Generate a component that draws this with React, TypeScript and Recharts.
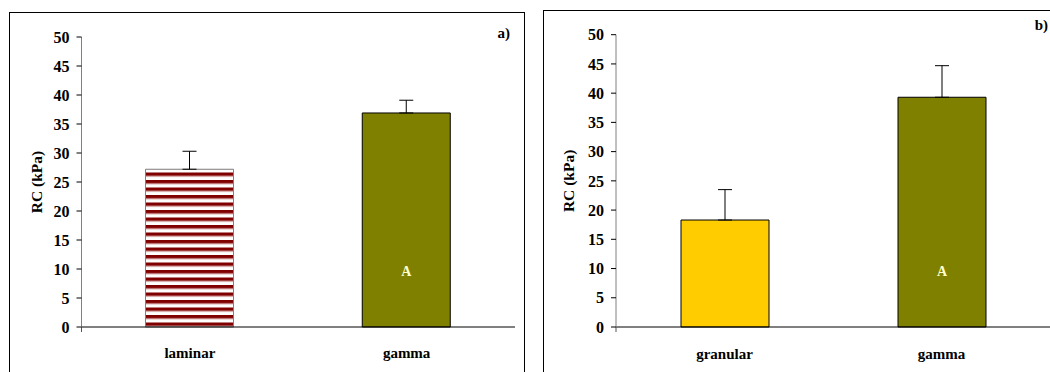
import { BarChart, Bar, XAxis, YAxis, Cell, ErrorBar, LabelList } from 'recharts'

const catsA = ['laminar', 'gamma']
const valsA = [27.2, 36.9]
const errsA = [3.1, 2.2]
const tagsA = ['', 'A']

const catsB = ['granular', 'gamma']
const valsB = [18.3, 39.3]
const errsB = [5.2, 5.4]
const tagsB = ['', 'A']

const yTicks = [0, 5, 10, 15, 20, 25, 30, 35, 40, 45, 50]
const edgeTicks = [0, 1, 2]

const fillsA = ['url(#stripes)', '#808000']
const strokesA = ['#808080', '#000']
const fillsB = ['#FFCC00', '#808000']
const strokesB = ['#000', '#000']

const font = "'Liberation Serif', 'Times New Roman', serif"
const tickFont = { fontFamily: font, fontSize: 15, fontWeight: 'bold', fill: '#000' }
const yTickFont = { ...tickFont, fontSize: 16 }

function build(cats: string[], vals: number[], errs: number[], tags: string[]) {
  return cats.map((c, i) => ({ name: c, rc: vals[i], err: [0, errs[i]], tag: tags[i] }))
}

const dataA = build(catsA, valsA, errsA, tagsA)
const dataB = build(catsB, valsB, errsB, tagsB)

// blank label, so only the boundary tick marks are drawn
const NoLabel = () => <g />

type PanelProps = {
  data: any[]
  fills: string[]
  strokes: string[]
  width: number
  top: number
  yWidth: number
  labelDx: number
  catMargin: number
  letter: string
  letterX: number
  letterY: number
  right: number
}

function Panel(p: PanelProps) {
  return (
    <BarChart width={p.width} height={372} data={p.data} margin={{ top: p.top, right: p.right, bottom: 0, left: 0 }}>
      <defs>
        <pattern id="stripes" patternUnits="userSpaceOnUse" width={8} height={7.5}>
          <rect x={0} y={0} width={8} height={7.5} fill="#fff" />
          <rect x={0} y={0} width={8} height={3.5} fill="#800000" />
          <rect x={0} y={3.5} width={8} height={0.8} fill="#d9a0a0" />
        </pattern>
      </defs>
      <XAxis
        xAxisId="bCat"
        dataKey="name"
        height={37}
        axisLine={false}
        tickLine={false}
        tickSize={0}
        tickMargin={p.catMargin}
        tick={tickFont}
      />
      <XAxis
        xAxisId="aEdge"
        type="number"
        domain={[0, 2]}
        ticks={edgeTicks}
        allowDataOverflow
        height={8}
        tick={NoLabel}
        tickSize={5}
        axisLine={{ stroke: '#000' }}
        tickLine={{ stroke: '#555' }}
      />
      <YAxis
        domain={[0, 50]}
        ticks={yTicks}
        width={p.yWidth}
        interval={0}
        tickSize={5}
        tickMargin={7}
        axisLine={{ stroke: '#808080' }}
        tickLine={{ stroke: '#000' }}
        tick={yTickFont}
        label={{
          value: 'RC (kPa)',
          angle: -90,
          position: 'center',
          dx: p.labelDx,
          style: { fontFamily: font, fontSize: 15.5, fontWeight: 'bold', fill: '#000' },
        }}
      />
      <Bar xAxisId="bCat" dataKey="rc" barSize={88} isAnimationActive={false}>
        {p.data.map((d, i) => (
          <Cell key={d.name} fill={p.fills[i]} stroke={p.strokes[i]} strokeWidth={1} />
        ))}
        <ErrorBar dataKey="err" direction="y" width={7} stroke="#000" strokeWidth={1} />
        <LabelList
          dataKey="tag"
          position="insideBottom"
          offset={51}
          style={{ fontFamily: font, fontSize: 14, fontWeight: 'bold', fill: '#FFFFCC' }}
        />
      </Bar>
      <text
        x={p.letterX}
        y={p.letterY}
        textAnchor="end"
        style={{ fontFamily: font, fontSize: 15, fontWeight: 'bold', fill: '#000' }}
      >
        {p.letter}
      </text>
    </BarChart>
  )
}

export default function App() {
  return (
    <div
      style={{
        position: 'absolute',
        left: 0,
        top: 0,
        width: 1050,
        height: 372,
        overflow: 'hidden',
        background: '#fff',
      }}
    >
      <div
        style={{
          position: 'absolute',
          left: 9,
          top: 12,
          width: 514,
          height: 380,
          border: '1px solid #000',
        }}
      />
      <div
        style={{
          position: 'absolute',
          left: 543,
          top: 10,
          width: 520,
          height: 380,
          border: '1px solid #000',
        }}
      />
      <div style={{ position: 'absolute', left: 0, top: 0 }}>
        <Panel
          data={dataA}
          fills={fillsA}
          strokes={strokesA}
          width={524}
          top={37}
          right={9}
          yWidth={81.5}
          labelDx={-4.5}
          catMargin={12}
          letter="a)"
          letterX={510}
          letterY={38}
        />
      </div>
      <div style={{ position: 'absolute', left: 543, top: 0 }}>
        <Panel
          data={dataB}
          fills={fillsB}
          strokes={strokesB}
          width={507}
          top={34.7}
          right={0}
          yWidth={73}
          labelDx={-10.5}
          catMargin={13}
          letter="b)"
          letterX={505}
          letterY={30}
        />
      </div>
    </div>
  )
}
